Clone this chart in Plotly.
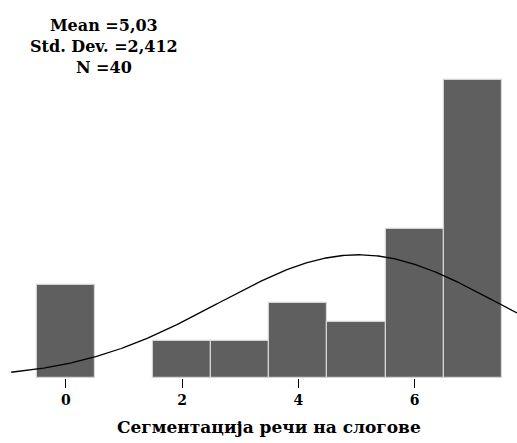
import numpy as np
import plotly.graph_objects as go

# Histogram of syllable-segmentation scores
scores = [0, 1, 2, 3, 4, 5, 6, 7]
counts = [5, 0, 2, 2, 4, 3, 8, 16]
tick_values = [0, 2, 4, 6]
tick_labels = ["0", "2", "4", "6"]

mean_val = 5.03
std_val = 2.412
n_val = 40
stats_text = "Mean =5,03<br>Std. Dev. =2,412<br>N =40"
axis_title = "Сегментација речи на слогове"

# Normal curve scaled to counts (bin width 1)
x_min, x_max = -0.96, 7.76
xc = np.linspace(x_min + 0.02, x_max, 300)
yc = n_val * np.exp(-0.5 * ((xc - mean_val) / std_val) ** 2) / (std_val * np.sqrt(2 * np.pi))

FONT = "DejaVu Serif"

# empty bins are left out so no outline is drawn at the baseline
bar_heights = [c if c > 0 else None for c in counts]

fig = go.Figure()
fig.add_trace(go.Bar(
    x=scores, y=bar_heights, width=1,
    marker=dict(color="#5f5f5f", line=dict(color="#d4d4d4", width=1.2)),
    hoverinfo="skip",
))
fig.add_trace(go.Scatter(
    x=xc, y=yc, mode="lines",
    line=dict(color="black", width=1.3),
    hoverinfo="skip",
))

fig.update_layout(
    width=517, height=443,
    margin=dict(l=10, r=0, t=60, b=65),
    paper_bgcolor="white", plot_bgcolor="white",
    showlegend=False,
    bargap=0,
    xaxis=dict(
        range=[x_min, x_max],
        tickmode="array", tickvals=tick_values, ticktext=tick_labels,
        ticks="outside", ticklen=9, tickcolor="black", tickwidth=1,
        showline=False, showgrid=False, zeroline=False,
        tickfont=dict(family=FONT, size=14, color="black", weight="bold"),
    ),
    yaxis=dict(range=[0, 17.07], visible=False, showgrid=False, zeroline=False),
    annotations=[
        dict(
            text=stats_text, xref="paper", yref="paper",
            x=(104 - 10) / 507, y=(378 - 14) / 318,
            xanchor="center", yanchor="top", align="center", showarrow=False,
            font=dict(family=FONT, size=16, color="black", weight="bold"),
        ),
        dict(
            text=axis_title, xref="paper", yref="paper",
            x=(269 - 10) / 507, y=(378 - 427) / 318,
            xanchor="center", yanchor="middle", showarrow=False,
            font=dict(family=FONT, size=17, color="black", weight="bold"),
        ),
    ],
)

fig.write_html("out.html")
